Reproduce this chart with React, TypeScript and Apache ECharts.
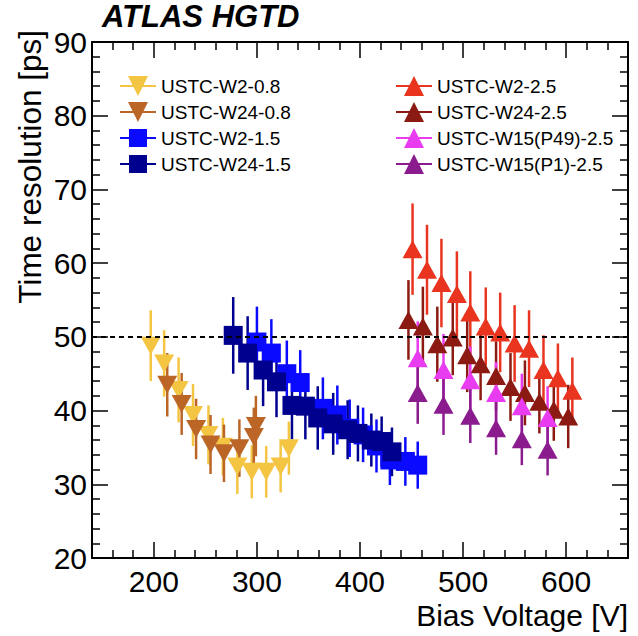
import React, { useEffect, useRef } from "react";
import * as echarts from "echarts";

// ---- data (bias voltage [V], time resolution [ps], uncertainty [ps]) ----
const w2_08_V = [197, 210, 224, 238, 253, 267, 281, 295, 309, 323, 331];
const w2_08_T = [48.8, 46.4, 42.8, 39.4, 36.7, 35.1, 32.4, 31.7, 31.7, 32.4, 34.9];
const w2_08_E = [4.8, 4.5, 4.4, 4.2, 4.0, 3.9, 3.7, 3.6, 3.5, 3.5, 3.6];

const w24_08_V = [213, 227, 241, 255, 268, 283, 297, 299];
const w24_08_T = [43.5, 40.9, 37.5, 35.4, 34.2, 34.9, 36.4, 37.9];
const w24_08_E = [4.3, 4.2, 4.1, 4.0, 3.9, 3.9, 4.0, 4.1];

const w2_15_V = [300, 314, 329, 342, 364, 378, 390, 403, 416, 429, 444, 456];
const w2_15_T = [49.3, 47.8, 45.0, 43.8, 40.3, 39.4, 37.6, 36.7, 35.2, 33.3, 33.1, 32.6];
const w2_15_E = [4.8, 4.6, 4.5, 4.4, 4.2, 4.0, 3.9, 3.7, 3.6, 3.4, 3.3, 3.2];

const w24_15_V = [277, 291, 306, 319, 334, 347, 359, 374, 388, 398, 411, 421, 431];
const w24_15_T = [50.2, 47.8, 45.5, 43.9, 40.7, 40.6, 39.0, 38.2, 37.4, 36.9, 36.0, 35.8, 34.4];
const w24_15_E = [5.2, 5.0, 4.9, 4.8, 4.6, 4.5, 4.3, 4.2, 4.0, 3.8, 3.6, 3.4, 3.3];

const w2_25_V = [451, 465, 479, 494, 507, 522, 536, 550, 564, 578, 592, 606];
const w2_25_T = [61.9, 59.1, 57.3, 55.8, 53.3, 51.4, 50.6, 49.1, 48.4, 45.5, 44.4, 42.7];
const w2_25_E = [6.2, 6.1, 6.0, 5.8, 5.6, 5.3, 5.4, 5.2, 5.2, 4.7, 4.7, 4.5];

const w24_25_V = [447, 461, 475, 490, 504, 517, 532, 546, 560, 574, 588, 602];
const w24_25_T = [52.3, 51.4, 49.0, 49.9, 47.5, 46.3, 44.7, 43.2, 42.4, 41.2, 40.1, 39.2];
const w24_25_E = [5.4, 5.4, 5.1, 5.1, 5.0, 4.9, 4.7, 4.6, 4.4, 4.3, 4.2, 4.3];

const w15p49_V = [456, 481, 507, 532, 557, 582];
const w15p49_T = [47.1, 45.5, 44.1, 42.4, 40.6, 39.0];
const w15p49_E = [5.0, 4.9, 4.6, 4.2, 4.4, 4.3];

const w15p1_V = [456, 481, 507, 532, 557, 582];
const w15p1_T = [42.4, 40.8, 39.3, 37.6, 36.1, 34.7];
const w15p1_E = [4.2, 4.1, 3.7, 3.6, 3.5, 3.5];

const xTicks = { min: 140, max: 660 };
const yTicks = { min: 20, max: 90, interval: 10 };
const refLine = 50;

const FONT = "'Liberation Sans', Arial, Helvetica, sans-serif";

type Ser = { name: string; V: number[]; T: number[]; E: number[]; color: string; kind: "down" | "up" | "square" };

const seriesDefs: Ser[] = [
  { name: "USTC-W2-0.8", V: w2_08_V, T: w2_08_T, E: w2_08_E, color: "#f4c443", kind: "down" },
  { name: "USTC-W24-0.8", V: w24_08_V, T: w24_08_T, E: w24_08_E, color: "#bb6627", kind: "down" },
  { name: "USTC-W2-1.5", V: w2_15_V, T: w2_15_T, E: w2_15_E, color: "#0a0aff", kind: "square" },
  { name: "USTC-W24-1.5", V: w24_15_V, T: w24_15_T, E: w24_15_E, color: "#00008f", kind: "square" },
  { name: "USTC-W2-2.5", V: w2_25_V, T: w2_25_T, E: w2_25_E, color: "#e9341f", kind: "up" },
  { name: "USTC-W24-2.5", V: w24_25_V, T: w24_25_T, E: w24_25_E, color: "#8b1b12", kind: "up" },
  { name: "USTC-W15(P49)-2.5", V: w15p49_V, T: w15p49_T, E: w15p49_E, color: "#e93cf0", kind: "up" },
  { name: "USTC-W15(P1)-2.5", V: w15p1_V, T: w15p1_T, E: w15p1_E, color: "#8a1c8e", kind: "up" },
];

const ICON_DOWN = "path://M0,9L36,9L36,11L0,11Z M8,0L28,0L18,20Z";
const ICON_UP = "path://M0,9L36,9L36,11L0,11Z M18,0L28,20L8,20Z";
const ICON_SQ = "path://M0,9L36,9L36,11L0,11Z M9,1L27,1L27,19L9,19Z M0,0L0.01,0L0.01,20L0,20Z";
const iconFor = (k: string) => (k === "down" ? ICON_DOWN : k === "up" ? ICON_UP : ICON_SQ);

export default function App() {
  const ref = useRef<HTMLDivElement>(null);
  useEffect(() => {
    if (!ref.current) return;
    const chart = echarts.init(ref.current, null, { renderer: "svg" });

    const series: any[] = [];
    seriesDefs.forEach((s, idx) => {
      const data = s.V.map((v, i) => [v, s.T[i], s.E[i]]);
      series.push({
        type: "custom",
        name: s.name,
        xAxisIndex: 0,
        yAxisIndex: 0,
        itemStyle: { color: s.color },
        encode: { x: 0, y: 1 },
        data,
        renderItem: (params: any, api: any) => {
          const x = api.value(0);
          const y = api.value(1);
          const e = api.value(2);
          const top = api.coord([x, y + e]);
          const bot = api.coord([x, y - e]);
          return {
            type: "line",
            shape: { x1: top[0], y1: top[1], x2: bot[0], y2: bot[1] },
            style: { stroke: s.color, lineWidth: 2.5 },
          };
        },
        silent: true,
      });
      const sc: any = {
        type: "scatter",
        name: s.name,
        xAxisIndex: 0,
        yAxisIndex: 0,
        data: data.map((d) => [d[0], d[1]]),
        symbol: s.kind === "square" ? "rect" : "triangle",
        symbolRotate: s.kind === "down" ? 180 : 0,
        symbolSize: s.kind === "square" ? 19 : [20, 18],
        itemStyle: { color: s.color, opacity: 1 },
        silent: true,
      };
      if (idx === 0) {
        sc.markLine = {
          silent: true,
          symbol: ["none", "none"],
          label: { show: false },
          lineStyle: { color: "#000", type: [5, 4], width: 2 },
          data: [{ yAxis: refLine }],
        };
      }
      series.push(sc);
    });

    const legendCommon = {
      orient: "vertical",
      padding: 0,
      itemWidth: 36,
      itemHeight: 20,
      itemGap: 6,
      textStyle: { fontSize: 19, color: "#000", fontFamily: FONT },
      selectedMode: false,
    };

    const xCommon = {
      type: "value",
      min: xTicks.min,
      max: xTicks.max,
      splitNumber: 5,
      splitLine: { show: false },
      axisLine: { show: true, onZero: false, lineStyle: { color: "#000", width: 2 } },
      axisTick: { show: true, inside: true, length: 16, lineStyle: { color: "#000", width: 1.5 } },
      minorTick: { show: true, splitNumber: 5, length: 8, lineStyle: { color: "#000", width: 1.5 } },
    };
    const yCommon = {
      type: "value",
      min: yTicks.min,
      max: yTicks.max,
      interval: yTicks.interval,
      splitLine: { show: false },
      axisLine: { show: true, onZero: false, lineStyle: { color: "#000", width: 2 } },
      axisTick: { show: true, inside: true, length: 16, lineStyle: { color: "#000", width: 1.5 } },
      minorTick: { show: true, splitNumber: 5, length: 8, lineStyle: { color: "#000", width: 1.5 } },
    };

    chart.setOption({
      animation: false,
      backgroundColor: "#fff",
      grid: { left: 92, top: 42, width: 536, height: 516, containLabel: false },
      xAxis: [
        {
          ...xCommon,
          position: "bottom",
          axisLabel: {
            show: true,
            margin: 8,
            fontSize: 30,
            lineHeight: 30,
            color: "#000",
            fontFamily: FONT,
            formatter: (v: number) => (v % 100 === 0 ? String(v) : ""),
          },
        },
        { ...xCommon, position: "top", axisLabel: { show: false } },
      ],
      yAxis: [
        {
          ...yCommon,
          position: "left",
          axisLabel: { show: true, margin: 5, fontSize: 30, color: "#000", fontFamily: FONT },
        },
        { ...yCommon, position: "right", axisLabel: { show: false } },
      ],
      legend: [
        {
          ...legendCommon,
          left: 120,
          top: 76,
          data: seriesDefs.slice(0, 4).map((s) => ({ name: s.name, icon: iconFor(s.kind), itemStyle: { color: s.color } })),
        },
        {
          ...legendCommon,
          left: 396,
          top: 76,
          data: seriesDefs.slice(4).map((s) => ({ name: s.name, icon: iconFor(s.kind), itemStyle: { color: s.color } })),
        },
      ],
      graphic: [
        {
          type: "text",
          left: 102,
          top: 1,
          style: { text: "ATLAS HGTD", font: `italic bold 31px ${FONT}`, fill: "#000" },
        },
        {
          type: "text",
          x: 628,
          y: 600,
          style: { text: "Bias Voltage [V]", font: `30px ${FONT}`, fill: "#000", textAlign: "right", textVerticalAlign: "top" },
        },
        {
          type: "text",
          x: 30,
          y: 30,
          rotation: Math.PI / 2,
          style: { text: "Time resolution [ps]", font: `31.5px ${FONT}`, fill: "#000", textAlign: "right", textVerticalAlign: "middle" },
        },
      ],
      series,
    });
    return () => chart.dispose();
  }, []);
  return <div ref={ref} style={{ position: "fixed", left: 0, top: 0, width: 638, height: 636, background: "#fff" }} />;
}
